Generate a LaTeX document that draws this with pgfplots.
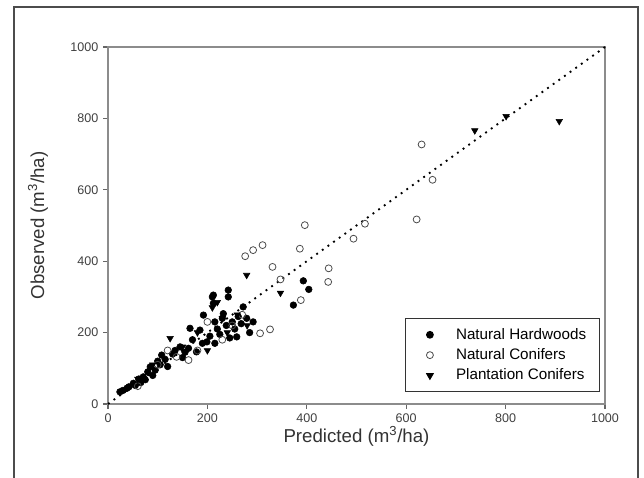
\documentclass[border=0pt]{standalone}
\usepackage{fontspec}
\setmainfont{Liberation Sans}
\usepackage{pgfplots}
\pgfplotsset{compat=1.18}

% observed vs predicted volume, three stand types
\pgfplotstableread{
x y
24 34
30 38
38 44
42 48
51 58
55 52
62 70
66 60
71 76
75 68
80 90
85 104
90 80
95 95
100 120
105 110
108 137
115 125
120 105
130 140
135 150
145 160
150 130
155 145
162 156
165 212
170 180
178 146
185 207
190 170
192 249
199 174
205 190
210 300
212 282
212 305
215 230
215 170
220 210
225 195
230 240
232 253
238 220
242 300
242 319
245 185
250 230
255 210
259 188
262 245
268 225
272 272
279 240
285 200
292 230
373 277
393 345
404 321
}\hardwoods

\pgfplotstableread{
x y
60 50
100 110
120 150
138 132
162 123
180 150
200 230
230 180
250 220
270 250
276 414
292 431
306 198
311 445
326 209
331 384
347 349
386 435
388 291
396 501
443 342
444 380
494 463
517 505
621 517
631 727
653 628
}\conifers

\pgfplotstableread{
x y
60 70
90 110
125 184
150 160
180 200
200 150
210 270
220 285
230 240
240 200
260 250
279 361
280 220
347 311
738 766
801 806
908 792
}\plantation

% legend marker with some empty room on its left
\pgfplotsset{widemark/.style={legend image code/.code={%
  \path[draw=none, fill=none] (-10pt,0pt) (0pt,0pt);
  \draw[##1] plot coordinates {(0pt,0pt)};}}}

\begin{document}
\begin{tikzpicture}
\useasboundingbox (0,0) rectangle (483pt,358.5pt);
\draw[black!70, line width=1.1pt] (10.5pt,0) -- (10.5pt,353.25pt) -- (478.5pt,353.25pt) -- (478.5pt,0);
\begin{axis}[
  at={(81pt,55.5pt)}, anchor=south west,
  scale only axis, width=372.75pt, height=267.75pt,
  xmin=0, xmax=1000, ymin=0, ymax=1000,
  xtick={0,200,...,1000}, ytick={0,200,...,1000},
  tick align=outside, xtick pos=left, ytick pos=left,
  major tick length=3.75pt,
  axis line style={black!45, line width=1pt},
  tick style={black!60, line width=0.8pt},
  /pgf/number format/assume math mode=true,
  /pgf/number format/1000 sep={},
  ticklabel style={font=\fontsize{9.4}{11}\selectfont, text=black!75},
  xlabel={Predicted (m\textsuperscript{3}/ha)},
  ylabel={Observed (m\textsuperscript{3}/ha)},
  label style={font=\fontsize{14}{16}\selectfont, text=black!80},
  xlabel style={at={(axis description cs:0.5,-0.092)}, anchor=center},
  ylabel style={at={(axis description cs:-0.141,0.5)}, anchor=center},
  legend style={at={(axis description cs:0.99,0.034)}, anchor=south east,
    draw=black!80, line width=0.8pt, font=\fontsize{11.4}{13}\selectfont,
    row sep=1.5pt, column sep=15pt, inner xsep=8pt, inner ysep=5pt},
  legend cell align=left,
  clip=false
]
\addplot[only marks, widemark, mark=*, mark size=2.5pt, black] table {\hardwoods};
\addlegendentry{Natural Hardwoods}
\addplot[only marks, widemark, mark=o, mark size=2.6pt, black!70, line width=0.6pt] table {\conifers};
\addlegendentry{Natural Conifers}
\addplot[only marks, widemark, mark=triangle*, mark size=2.8pt, mark options={rotate=180}, black] table {\plantation};
\addlegendentry{Plantation Conifers}
\addplot[black, line width=1.4pt, dash pattern=on 1.4pt off 3.8pt, forget plot] coordinates {(0,0) (1000,1000)};
\end{axis}
\end{tikzpicture}
\end{document}
